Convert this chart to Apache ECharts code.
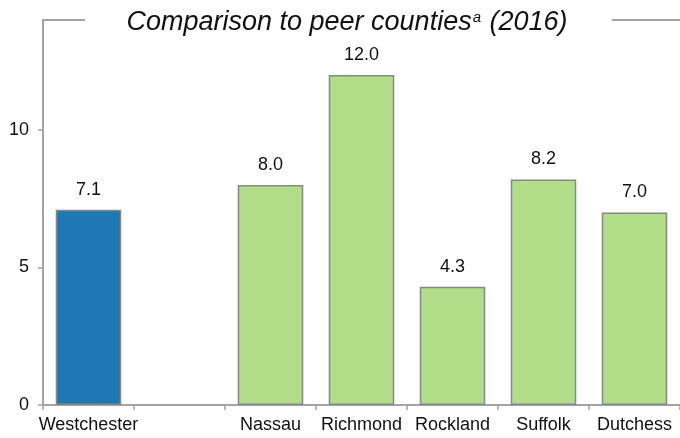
<!DOCTYPE html>
<html>
<head>
<meta charset="utf-8">
<script src="https://cdn.jsdelivr.net/npm/echarts@6/dist/echarts.min.js"></script>
<style>
  html, body { margin: 0; padding: 0; background: #fff; }
  #chart { width: 680px; height: 438px; }
</style>
</head>
<body>
<div id="chart"></div>
<script>
// Counties compared (the empty slot separates the home county from its peers)
const counties = ['Westchester', '', 'Nassau', 'Richmond', 'Rockland', 'Suffolk', 'Dutchess'];
const rates = [7.1, null, 8.0, 12.0, 4.3, 8.2, 7.0];
const yTicks = [0, 5, 10];
const homeCounty = 'Westchester';

const FONT = '"Liberation Sans", Arial, sans-serif';
const AXIS_GRAY = '#a3a3a3';
const HOME_BLUE = '#1f77b4';
const PEER_GREEN = '#b2de89';

const chart = echarts.init(document.getElementById('chart'), null, { renderer: 'canvas' });

chart.setOption({
  animation: false,
  backgroundColor: '#fff',
  title: {
    text: '{t|Comparison to peer counties}{s|a}{t| (2016)}',
    left: 347,
    top: 6,
    textAlign: 'center',
    padding: 0,
    textStyle: {
      fontWeight: 'normal',
      rich: {
        t: { fontFamily: FONT, fontStyle: 'italic', fontWeight: 'normal', fontSize: 27, color: '#111', verticalAlign: 'bottom', lineHeight: 30 },
        s: { fontFamily: FONT, fontStyle: 'italic', fontWeight: 'normal', fontSize: 15, color: '#111', verticalAlign: 'top', lineHeight: 15, padding: [4, 1, 0, 1] }
      }
    }
  },
  graphic: [
    // frame segments on either side of the title
    { type: 'line', shape: { x1: 42, y1: 20, x2: 85, y2: 20 }, style: { stroke: AXIS_GRAY, lineWidth: 2 } },
    { type: 'line', shape: { x1: 612, y1: 20, x2: 680, y2: 20 }, style: { stroke: AXIS_GRAY, lineWidth: 2 } }
  ],
  grid: { left: 43, top: 20, width: 640.5, height: 385, containLabel: false },
  xAxis: {
    type: 'category',
    data: counties,
    boundaryGap: true,
    axisLine: { show: true, lineStyle: { color: AXIS_GRAY, width: 2 } },
    axisTick: { show: true, length: 5, lineStyle: { color: AXIS_GRAY, width: 1.5 } },
    axisLabel: { fontFamily: FONT, fontSize: 18, color: '#111', margin: 11, interval: 0 },
    splitLine: { show: false }
  },
  yAxis: {
    type: 'value',
    min: 0,
    max: 14,
    interval: 5,
    axisLine: { show: true, lineStyle: { color: AXIS_GRAY, width: 2 } },
    axisTick: { show: true, length: 5, customValues: yTicks, lineStyle: { color: AXIS_GRAY, width: 1.5 } },
    axisLabel: { fontFamily: FONT, fontSize: 18, color: '#111', margin: 14, customValues: yTicks },
    splitLine: { show: false }
  },
  series: [{
    type: 'bar',
    data: rates,
    barWidth: '72%',
    itemStyle: {
      color: p => (p.name === homeCounty ? HOME_BLUE : PEER_GREEN),
      borderColor: '#888',
      borderWidth: 1.5
    },
    label: {
      show: true,
      position: 'top',
      distance: 11,
      fontFamily: FONT,
      fontSize: 18,
      color: '#111',
      formatter: p => (p.value == null ? '' : Number(p.value).toFixed(1))
    }
  }]
});
</script>
</body>
</html>
